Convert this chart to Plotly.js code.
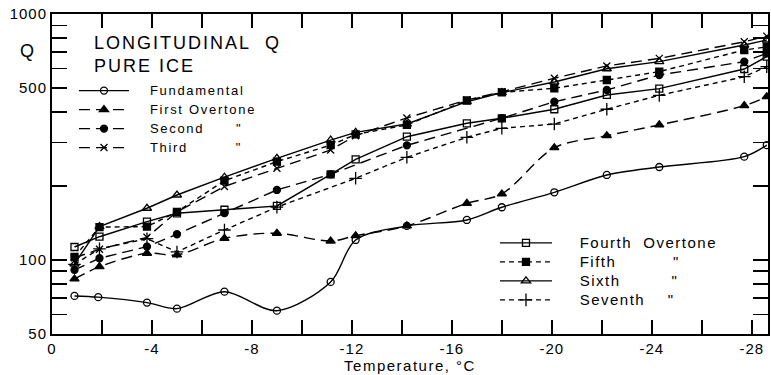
<!DOCTYPE html>
<html>
<head>
<meta charset="utf-8">
<script src="https://cdn.plot.ly/plotly-3.0.1.min.js"></script>
<style>
  html, body { margin: 0; padding: 0; background: #fff; }
  #chart { width: 771px; height: 375px; }
  g.legend text { letter-spacing: 1.7px; font-size: 13px !important; }
  g.legend2 text { letter-spacing: 1.5px; font-size: 15px !important; }
  g.legend [clip-path], g.legend2 [clip-path] { clip-path: none !important; }
  .annotation-text { letter-spacing: 2px; }
  .xtick text, .ytick text { letter-spacing: 1px; }
  .g-xtitle text { letter-spacing: 1.5px; }
</style>
</head>
<body>
<div id="chart"></div>
<script>
// Q of longitudinal vibration modes in pure ice versus temperature (°C)
const fundamentalT = [-0.9, -1.85, -3.8, -5.0, -6.9, -9.0, -11.15, -12.15, -14.2, -16.6, -18.0, -20.1, -22.2, -24.3, -27.7, -28.6];
const fundamentalQ = [71.4, 70.6, 67.1, 63.4, 74.3, 62.2, 81.4, 120.6, 137.5, 145.4, 163.8, 188.4, 221.6, 238.8, 263, 293];

const firstT = [-0.9, -1.9, -3.8, -5.0, -6.9, -9.0, -11.15, -12.15, -14.2, -16.6, -18.0, -20.1, -22.2, -24.3, -27.7, -28.6];
const firstQ = [83.7, 93.9, 106.5, 104.8, 122.5, 128.4, 119.4, 125.5, 137.5, 170, 185.5, 286, 320, 354, 424, 461];

const secondT = [-0.9, -1.9, -3.8, -5.0, -6.9, -9.0, -11.15, -14.2, -18.0, -20.1, -22.2, -24.3, -27.7, -28.6];
const secondQ = [91.1, 101.6, 113.3, 127.2, 155, 192.6, 223, 292.5, 377, 440, 491, 565, 640, 692];

const thirdT = [-0.9, -1.9, -3.8, -5.0, -6.9, -9.0, -11.15, -12.15, -14.2, -16.6, -18.0, -20.1, -22.2, -24.3, -27.7, -28.6];
const thirdQ = [102, 110.5, 123.6, 157, 199, 236, 280, 320, 378, 447, 483, 548, 615, 660, 771, 813];

const fourthT = [-0.9, -1.9, -3.8, -5.0, -6.9, -9.0, -11.15, -12.15, -14.2, -16.6, -18.0, -20.1, -22.2, -24.3, -27.7, -28.6];
const fourthQ = [112.9, 124.3, 143.1, 154.8, 160, 165.8, 223, 256.6, 317, 359.5, 376.7, 410, 468.7, 497, 597.6, 671];

const fifthT = [-0.9, -1.9, -3.8, -5.0, -6.9, -9.0, -11.15, -12.15, -14.2, -16.6, -18.0, -20.1, -22.2, -24.3, -27.7, -28.6];
const fifthQ = [103, 136, 136.6, 157, 210, 251, 293, 324, 354, 445, 480, 499, 539, 583, 714, 735];

const sixthT = [-0.9, -1.9, -3.8, -5.0, -6.9, -9.0, -11.15, -12.15, -14.2, -16.6, -18.0, -20.1, -22.2, -24.3, -27.7, -28.6];
const sixthQ = [96.3, 136.6, 162.3, 183.7, 217, 259, 307, 330, 357, 440, 479, 529, 599, 640, 748, 784];

const seventhT = [-0.9, -1.9, -3.8, -5.0, -6.9, -9.0, -12.15, -14.2, -16.6, -18.0, -20.1, -22.2, -24.3, -27.7, -28.6];
const seventhQ = [96, 111, 122, 107.8, 132.4, 164, 214.8, 261.4, 315.3, 343, 357, 410, 467, 556, 611];

// Axis ticks
const xTickVals = [0, -2, -4, -6, -8, -10, -12, -14, -16, -18, -20, -22, -24, -26, -28];
const xTickText = ['0', '', '-4', '', '-8', '', '-12', '', '-16', '', '-20', '', '-24', '', '-28'];
const yTickVals = [50, 60, 70, 80, 90, 100, 200, 300, 400, 500, 600, 700, 800, 900, 1000];
const yTickText = ['50', '', '', '', '', '100', '', '', '', '500', '', '', '', '', '1000'];

const NB = '\u00a0';
const DITTO = '"';

const ink = '#000';
const FONT = '"Liberation Sans", Arial, sans-serif';

function series(x, y, name, symbol, dash, shape, legend, msize) {
  // leading gap between the legend sample line and its label
  const pad = NB.repeat(legend === 'legend' ? 3 : 4);
  return {
    x: x, y: y, name: pad + name, type: 'scatter', mode: 'lines+markers',
    legend: legend,
    line: { color: ink, width: 1.4, dash: dash, shape: shape, smoothing: 0.9 },
    marker: {
      symbol: symbol, size: msize || 7, color: ink,
      line: { color: ink, width: 1.3 }
    }
  };
}

const LONG = '11px,6px';
const SHORT = '5px,4px';

const traces = [
  series(fundamentalT, fundamentalQ, 'Fundamental', 'circle-open', 'solid', 'spline', 'legend'),
  series(firstT, firstQ, 'First Overtone', 'triangle-up', LONG, 'spline', 'legend', 8),
  series(secondT, secondQ, 'Second' + NB.repeat(6) + DITTO, 'circle', LONG, 'linear', 'legend'),
  series(thirdT, thirdQ, 'Third' + NB.repeat(9) + DITTO, 'x-thin-open', LONG, 'linear', 'legend'),
  series(fourthT, fourthQ, 'Fourth' + NB + NB + 'Overtone', 'square-open', 'solid', 'linear', 'legend2'),
  series(fifthT, fifthQ, 'Fifth' + NB.repeat(10) + DITTO, 'square', SHORT, 'linear', 'legend2'),
  series(sixthT, sixthQ, 'Sixth' + NB.repeat(9) + DITTO, 'triangle-up-open', 'solid', 'linear', 'legend2', 8),
  series(seventhT, seventhQ, 'Seventh' + NB.repeat(4) + DITTO, 'cross-thin-open', SHORT, 'linear', 'legend2', 9)
];

const legendStyle = {
  xref: 'paper', yref: 'paper', xanchor: 'left', yanchor: 'top',
  bgcolor: 'rgba(0,0,0,0)', borderwidth: 0,
  font: { family: FONT, size: 12, color: ink },
  tracegroupgap: 0
};

const layout = {
  width: 771, height: 375,
  margin: { l: 52, r: 3, t: 14, b: 41 },
  paper_bgcolor: '#fff', plot_bgcolor: '#fff',
  font: { family: FONT, size: 14, color: ink },
  showlegend: true,
  legend: Object.assign({}, legendStyle, { x: 0.0307, y: 0.806, itemwidth: 50 }),
  legend2: Object.assign({}, legendStyle, { x: 0.6187, y: 0.330, itemwidth: 52 }),
  xaxis: {
    range: [0, -28.65],
    tickmode: 'array', tickvals: xTickVals, ticktext: xTickText,
    ticks: 'inside', ticklen: 14, tickwidth: 1.5, tickcolor: ink,
    showline: true, linecolor: ink, linewidth: 2, mirror: 'ticks',
    showgrid: false, zeroline: false,
    tickfont: { size: 15 },
    title: { text: 'Temperature, °C', font: { size: 15 }, standoff: 4 }
  },
  yaxis: {
    type: 'log',
    range: [Math.log10(50), Math.log10(1000)],
    tickmode: 'array', tickvals: yTickVals, ticktext: yTickText,
    ticks: 'inside', ticklen: 15, tickwidth: 1.5, tickcolor: ink,
    showline: true, linecolor: ink, linewidth: 2, mirror: 'ticks',
    showgrid: false, zeroline: false,
    tickfont: { size: 15 }
  },
  annotations: [
    {
      xref: 'paper', yref: 'paper', x: 0.056, y: 0.948, xanchor: 'left', yanchor: 'top',
      align: 'left', showarrow: false,
      text: 'LONGITUDINAL' + NB + NB + 'Q<br>PURE' + NB + 'ICE',
      font: { size: 18, color: ink }
    },
    {
      xref: 'paper', yref: 'paper', x: -0.034, y: 0.885, xanchor: 'center', yanchor: 'middle',
      showarrow: false, text: 'Q', font: { size: 18, color: ink }
    }
  ]
};

Plotly.newPlot('chart', traces, layout, { displayModeBar: false, staticPlot: true });
</script>
</body>
</html>
